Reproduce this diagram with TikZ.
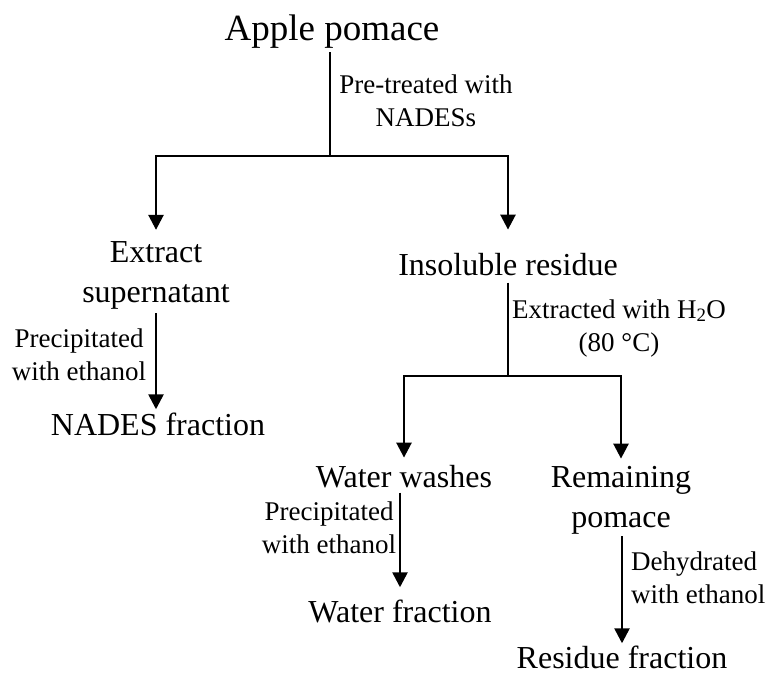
\documentclass[tikz,border=0pt]{standalone}
\usepackage{fontspec}
\setmainfont{Liberation Serif}
\usetikzlibrary{arrows.meta}
\begin{document}
\begin{tikzpicture}[x=1pt,y=-1pt,
  title/.style={font=\fontsize{37}{44}\selectfont, inner sep=0pt, anchor=base},
  box/.style={font=\fontsize{32}{40}\selectfont, inner sep=0pt, anchor=base, align=center},
  lbl/.style={font=\fontsize{27}{33}\selectfont, inner sep=0pt, anchor=base, align=center},
  ln/.style={line width=2.6pt},
  arr/.style={ln, -{Triangle[width=15pt,length=15pt]}}]
\useasboundingbox (0,0) rectangle (765,675);
% nodes (anchor = baseline of the last line)
\node[title] (ap) at (332,40) {Apple pomace};
\node[box] (es) at (156,302) {Extract\\supernatant};
\node[box] (ir) at (508,275) {Insoluble residue};
\node[box] (nf) at (158,435) {NADES fraction};
\node[box] (ww) at (404,487) {Water washes};
\node[box] (rp) at (621,527) {Remaining\\pomace};
\node[box] (wf) at (400,622) {Water fraction};
\node[box] (rf) at (622,668) {Residue fraction};
% labels
\node[lbl] (l1) at (426,126) {Pre-treated with\\NADESs};
\node[lbl] (l2) at (79,380) {Precipitated\\with ethanol};
\node[lbl] (l3) at (619,351) {Extracted with H\textsubscript{2}O\\(80 °C)};
\node[lbl] (l4) at (329,553) {Precipitated\\with ethanol};
\node[lbl, align=left, anchor=base west] (l5) at (631,603) {Dehydrated\\with ethanol};
% junctions
\coordinate (j1) at (330,156);
\coordinate (j2) at (508,376);
% connectors
\draw[ln, shorten <=4pt] (ap.south -| j1) -- (j1);
\draw[arr, shorten >=11pt] (j1) -| (es.north);
\draw[arr, shorten >=23pt] (j1) -| (ir.north);
\draw[arr, shorten <=4pt, shorten >=3pt] (es.south) -- (es.south |- nf.north);
\draw[ln, shorten <=7pt] (ir.south) -- (j2);
\draw[arr, shorten >=7pt] (j2) -| (ww.north);
\draw[arr, shorten >=7pt] (j2) -| (rp.north);
\draw[arr, shorten <=5pt, shorten >=12pt] (wf.north |- ww.south) -- (wf.north);
\draw[arr, shorten <=2pt, shorten >=2pt] (rf.north |- rp.south) -- (rf.north);
\end{tikzpicture}
\end{document}
